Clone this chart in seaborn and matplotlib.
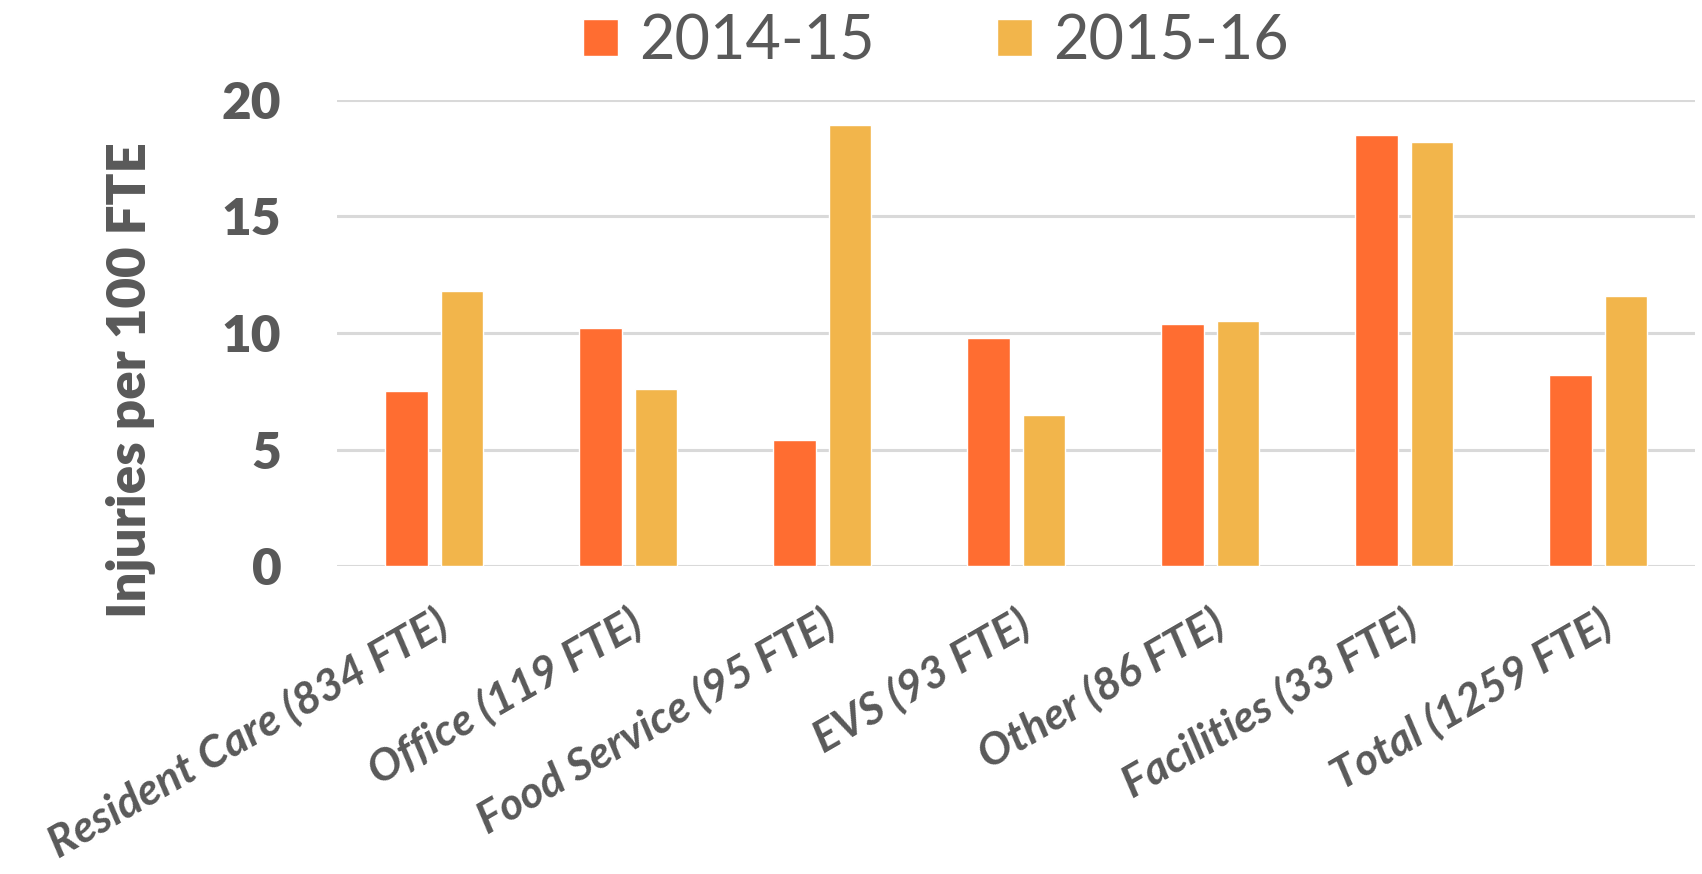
import numpy as np
import pandas as pd
import matplotlib
matplotlib.use("Agg")
import matplotlib.pyplot as plt
import seaborn as sns

# values
categories = ['Resident Care (834 FTE)', 'Office (119 FTE)', 'Food Service (95 FTE)',
              'EVS (93 FTE)', 'Other (86 FTE)', 'Facilities (33 FTE)', 'Total (1259 FTE)']
years = ['2014-15', '2015-16']
rate_2014_15 = [7.5, 10.2, 5.4, 9.8, 10.4, 18.5, 8.2]
rate_2015_16 = [11.8, 7.6, 18.9, 6.5, 10.5, 18.2, 11.6]
y_ticks = [0, 5, 10, 15, 20]

colors = ['#FF6D31', '#F2B54B']
text_col = '#595959'

df = pd.DataFrame({
    'dept': categories * 2,
    'year': [years[0]] * len(categories) + [years[1]] * len(categories),
    'rate': rate_2014_15 + rate_2015_16,
})

sns.set_style('white')
plt.rcParams['font.family'] = ['Lato', 'DejaVu Sans']

fig = plt.figure(figsize=(17.02, 8.74), dpi=100)
ax = fig.add_axes([0.198, 0.352, 0.798, 0.534])

sns.barplot(data=df, x='dept', y='rate', hue='year', palette=colors,
            width=0.57, gap=0.235, ax=ax, legend=True, saturation=1)

ax.set_ylim(0, 20)
ax.set_yticks(y_ticks)
ax.yaxis.grid(True, color='#D9D9D9', linewidth=2.2)
ax.set_axisbelow(True)
for s in ax.spines.values():
    s.set_visible(False)
ax.tick_params(axis='both', length=0)
ax.tick_params(axis='y', pad=40)
for lab in ax.get_yticklabels():
    lab.set_fontsize(37)
    lab.set_fontweight('heavy')
    lab.set_color(text_col)

ax.set_xlabel('')
ax.set_xticks(range(len(categories)))
ax.set_xticklabels(categories, rotation=30, ha='right', rotation_mode='anchor',
                   fontsize=32, fontweight='bold', fontstyle='italic', color=text_col)
ax.tick_params(axis='x', pad=26)

ax.set_ylabel('Injuries per 100 FTE', fontsize=38, fontweight='heavy', color=text_col)
ax.yaxis.set_label_coords(-0.133, 0.40)

handles, labels = ax.get_legend_handles_labels()
ax.get_legend().remove()
fig.legend(handles, labels, loc='upper center', bbox_to_anchor=(0.55, 1.048), ncol=2,
           frameon=False, fontsize=44, handlelength=0.57, handleheight=0.57,
           handletextpad=0.35, columnspacing=2.0, labelcolor=text_col)

fig.savefig('out.png', dpi=100, facecolor='white')
